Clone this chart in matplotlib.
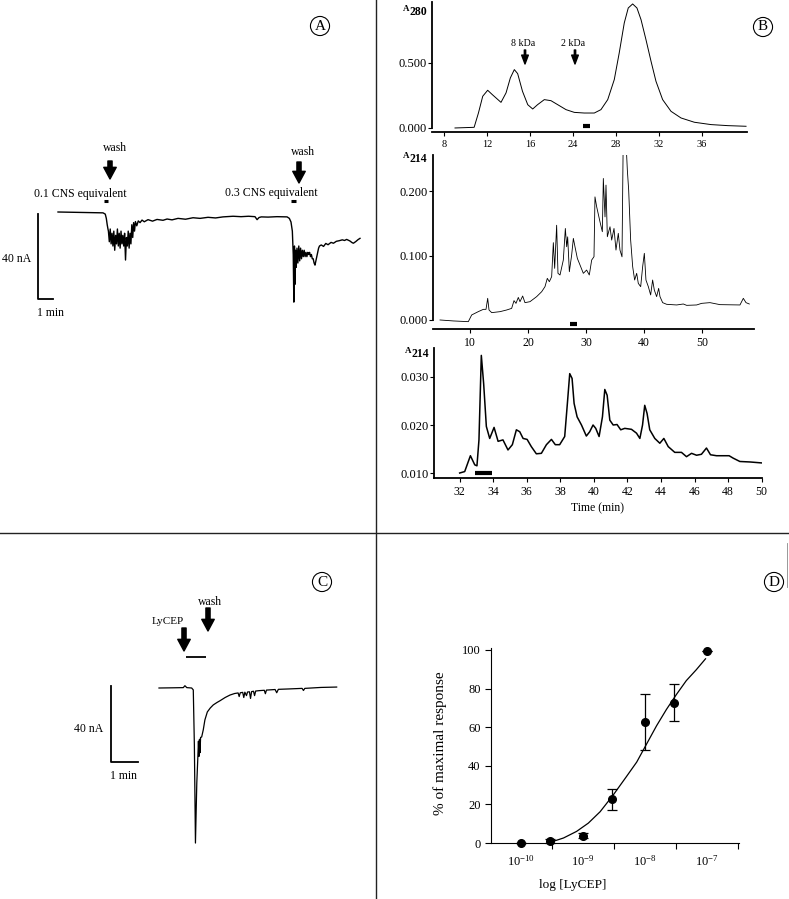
import numpy as np
import matplotlib
matplotlib.use("Agg")
import matplotlib.pyplot as plt
from matplotlib.ticker import FixedLocator, NullFormatter

plt.rcParams['font.family'] = ['Liberation Serif', 'DejaVu Serif']
plt.rcParams['mathtext.fontset'] = 'custom'
plt.rcParams['mathtext.rm'] = 'Liberation Serif'
plt.rcParams['mathtext.it'] = 'Liberation Serif:italic'
plt.rcParams['mathtext.bf'] = 'Liberation Serif:bold'
plt.rcParams['axes.unicode_minus'] = False

W, H = 789, 899

# ---------------- panel A : current trace (min, nA) ----------------
a_t_start = [0, 1.5, 3.0, 3.15, 3.22, 3.28, 3.33]
a_i_start = [0, -0.2, -0.4, -1.0, -3.0, -6.0, -8.0]
a_t_noise1 = [3.36, 3.42, 3.48, 3.54, 3.60, 3.66, 3.72, 3.78, 3.84, 3.90, 3.96, 4.02, 4.08, 4.14, 4.20,
              4.26, 4.32, 4.38, 4.44, 4.50, 4.56, 4.62, 4.68, 4.74, 4.80, 4.86, 4.92, 4.98, 5.04, 5.10]
a_i_noise1 = [-9, -14, -8, -15, -10, -16, -9, -18, -11, -15, -8, -16, -10, -17, -9,
              -15, -11, -16, -10, -22.6, -12, -16, -9, -17, -10, -15, -6, -12, -5, -9]
a_t_mid = [5.16, 5.25, 5.35, 5.47, 5.6, 5.75, 6.0, 6.3, 6.6, 7.0, 7.27, 7.6, 8.0, 8.5, 9.0, 9.47, 10.0,
           10.5, 11.0, 11.67, 12.2, 12.7, 13.13, 13.27, 13.4, 13.55, 14.0, 14.6, 15.27, 15.42, 15.53, 15.62,
           15.68, 15.72, 15.76, 15.80, 15.84, 15.88]
a_i_mid = [-4.5, -6.5, -4.2, -5.0, -3.8, -4.6, -3.6, -4.3, -3.5, -3.9, -3.3, -3.7, -3.0, -3.4, -2.7, -3.0, -2.5,
           -2.8, -2.3, -2.0, -2.2, -2.0, -2.2, -3.6, -2.6, -2.3, -2.4, -2.2, -2.3, -3.0, -4.7, -9.0,
           -20, -42.4, -16, -34, -18, -26]
a_t_noise2 = [15.93, 15.99, 16.05, 16.11, 16.17, 16.23, 16.29, 16.35, 16.41, 16.47, 16.53, 16.59, 16.65,
              16.71, 16.77, 16.83, 16.89, 16.95, 17.01, 17.07, 17.13, 17.19, 17.25, 17.31, 17.37, 17.43]
a_i_noise2 = [-17, -24, -16, -23, -17, -22, -18, -21, -18, -21, -19, -21, -19,
              -20, -19, -21, -20, -22, -22, -24, -25, -23, -21, -19, -17, -16]
a_t_end = [17.55, 17.7, 17.85, 18.0, 18.2, 18.36, 18.55, 18.75, 18.95, 19.1, 19.24, 19.45, 19.6, 19.69,
           19.85, 20.0, 20.13]
a_i_end = [-15.5, -16.2, -14.8, -15.4, -14.3, -14.7, -13.8, -13.5, -13.1, -13.4, -12.9, -13.6, -14.4, -14.7,
           -13.9, -13.0, -12.4]
a_app_start = [3.07, 15.53]
a_app_end = [3.33, 15.87]

# ---------------- panel B : chromatograms ----------------
b1_t = [9.02, 10.8, 11.2, 11.6, 12.06, 12.5, 13.3, 13.77, 14.17, 14.54, 14.85, 15.3, 15.79, 16.25, 16.7,
        17.33, 17.95, 18.58, 19.35, 20.12, 21.05, 21.98, 22.6, 23.23, 23.84, 24.3, 24.77, 25.14, 25.55,
        25.95, 26.33, 26.79, 27.26, 27.72, 28.34, 29.12, 30.05, 31.29, 32.84, 34.4, 36.1]
b1_a280 = [0.0, 0.005, 0.115, 0.244, 0.29, 0.256, 0.197, 0.27, 0.385, 0.449, 0.418, 0.282, 0.179, 0.146,
           0.179, 0.218, 0.21, 0.179, 0.141, 0.12, 0.115, 0.115, 0.141, 0.218, 0.372, 0.577, 0.808, 0.923,
           0.954, 0.923, 0.833, 0.679, 0.513, 0.359, 0.218, 0.128, 0.077, 0.044, 0.026, 0.018, 0.013]
b1_ticks = [8, 12, 16, 20, 24, 28, 32]
b1_tick_labels = ['8', '12', '16', '24', '28', '32', '36']
b1_fraction = [20.93, 21.58]
b1_markers = [15.5, 20.2]
b1_marker_labels = ['8 kDa', '2 kDa']

b2_t = [4.83, 7.13, 9.71, 10.29, 11.44, 12.3, 12.76, 13.05, 13.28, 13.74, 15.17, 16.32, 17.18, 17.59,
        17.93, 18.33, 18.62, 19.08, 19.48, 20.34, 21.49, 22.36, 22.93, 23.33, 23.68, 24.08, 24.37, 24.6,
        24.94, 25.17, 25.52, 26.09, 26.44, 26.67, 26.84, 27.13, 27.53, 27.82, 28.1, 28.51, 28.97, 29.54,
        30.11, 30.57, 30.98, 31.38, 31.55, 31.84, 32.41, 32.82, 32.99, 33.28, 33.45, 33.68, 34.14, 34.43,
        34.83, 35.17, 35.57, 35.86, 36.21, 36.44, 36.78, 37.13, 37.36, 37.7, 38.05, 38.39, 38.74, 39.02,
        39.43, 39.77, 40.06, 40.34, 40.75, 41.15, 41.49, 41.78, 42.18, 42.53, 42.76, 43.22, 43.91, 45.63,
        46.78, 47.36, 49.08, 49.94, 51.38, 53.1, 56.55, 57.13, 57.59, 58.16]
b2_a214 = [0.0, -0.0015, -0.0026, 0.0078, 0.013, 0.0165, 0.0165, 0.0336, 0.0155, 0.0114, 0.0129, 0.0155,
           0.018, 0.030, 0.0258, 0.035, 0.0284, 0.0372, 0.0269, 0.0284, 0.0362, 0.0439, 0.0517, 0.0646,
           0.0594, 0.0672, 0.12, 0.0801, 0.147, 0.0724, 0.0698, 0.093, 0.142, 0.1137, 0.129, 0.0749, 0.1008,
           0.1266, 0.1137, 0.0956, 0.0853, 0.0724, 0.0775, 0.0698, 0.093, 0.0982, 0.191, 0.1757, 0.1525,
           0.137, 0.2196, 0.160, 0.2093, 0.1292, 0.1447, 0.124, 0.142, 0.1085, 0.1344, 0.1085, 0.098, 0.30,
           0.30, 0.2326, 0.2016, 0.124, 0.0827, 0.062, 0.0724, 0.0568, 0.0517, 0.0827, 0.1034, 0.062, 0.0517,
           0.0388, 0.062, 0.0465, 0.0362, 0.0491, 0.0362, 0.0269, 0.0243, 0.0233, 0.0248, 0.0227, 0.0233,
           0.0258, 0.0269, 0.0238, 0.0233, 0.0336, 0.0269, 0.0248]
b2_fraction = [27.24, 28.45]

b3_t = [32.0, 32.3, 32.64, 32.9, 33.03, 33.15, 33.29, 33.43, 33.59, 33.79, 34.05, 34.29, 34.58, 34.88,
        35.14, 35.38, 35.58, 35.78, 36.02, 36.27, 36.57, 36.87, 37.17, 37.47, 37.7, 37.96, 38.26, 38.42,
        38.56, 38.7, 38.82, 39.0, 39.26, 39.55, 39.75, 39.95, 40.11, 40.31, 40.51, 40.65, 40.79, 40.95,
        41.15, 41.38, 41.6, 41.84, 42.24, 42.54, 42.74, 42.9, 43.03, 43.17, 43.33, 43.63, 43.93, 44.17,
        44.43, 44.82, 45.22, 45.52, 45.82, 46.12, 46.41, 46.71, 46.95, 47.31, 47.71, 48.06, 48.3, 48.7,
        49.3, 50.0]
b3_a214 = [0.0100, 0.0103, 0.0136, 0.0117, 0.0115, 0.0169, 0.0345, 0.0286, 0.0197, 0.0172, 0.0195, 0.0166,
           0.0169, 0.0148, 0.0159, 0.0190, 0.0186, 0.0172, 0.0170, 0.0155, 0.0140, 0.0141, 0.0159, 0.0170,
           0.0159, 0.0159, 0.0176, 0.0245, 0.0307, 0.0297, 0.0245, 0.0217, 0.0200, 0.0177, 0.0186, 0.0200,
           0.0193, 0.0176, 0.0217, 0.0274, 0.0262, 0.0210, 0.0200, 0.0201, 0.0190, 0.0193, 0.0191, 0.0183,
           0.0172, 0.0200, 0.0241, 0.0224, 0.0190, 0.0172, 0.0162, 0.0172, 0.0155, 0.0143, 0.0143, 0.0134,
           0.0141, 0.0137, 0.0139, 0.0152, 0.0138, 0.0136, 0.0136, 0.0136, 0.0131, 0.0124, 0.0123, 0.0121]
b3_fraction = [32.9, 33.95]

# ---------------- panel C : current trace (min, nA) ----------------
c_t = [0, 0.5, 0.9, 0.96, 1.03, 1.21, 1.27, 1.31, 1.35, 1.40, 1.44, 1.46, 1.48, 1.50, 1.52, 1.54, 1.58,
       1.64, 1.70, 1.79, 1.9, 2.01, 2.15, 2.26, 2.45, 2.63, 2.8, 2.93, 2.97, 3.01, 3.1, 3.14, 3.18, 3.24,
       3.28, 3.35, 3.39, 3.43, 3.5, 3.54, 3.58, 3.7, 3.9, 3.94, 3.98, 4.3, 4.36, 4.42, 4.8, 5.3, 5.35,
       5.4, 6.0, 6.58]
c_i = [0, 0.1, 0.2, 1.2, 0.2, 0, -1, -30, -81.6, -50, -36, -28, -36, -27, -34, -26, -25.8,
       -22, -16.8, -12.6, -10.5, -8.9, -7.6, -6.7, -5.0, -3.7, -2.9, -2.6, -4.5, -2.5, -2.3, -5.0, -2.2, -4.0,
       -2.1, -2.0, -5.5, -1.9, -1.7, -4.0, -1.6, -1.4, -1.2, -3.0, -1.1, -0.8, -2.5, -0.7, -0.5, -0.2, -1.3,
       -0.2, 0.3, 0.5]
c_app = [1.0, 1.74]

# ---------------- panel D : concentration-response ----------------
d_conc = [1e-10, 3e-10, 1e-9, 3e-9, 1e-8, 3e-8, 1e-7]
d_resp = [0, 1.2, 3.8, 22.6, 62.9, 72.6, 99.5]
d_err = [0, 1.0, 1.3, 5.5, 14.5, 9.6, 0]
d_fit_log = [-9.53, -9.31, -9.10, -8.91, -8.72, -8.51, -8.30, -8.13, -7.97, -7.81, -7.65, -7.49, -7.33,
             -7.17, -7.02]
d_fit_resp = [0.3, 2.6, 6.0, 10.3, 16.2, 24.8, 34.2, 41.9, 51.3, 60.7, 69.2, 76.9, 84.1, 89.7, 95.4]
d_xticks = [1e-10, 1e-9, 1e-8, 1e-7]
d_xtick_labels = [r'$10^{-10}$', r'$10^{-9}$', r'$10^{-8}$', r'$10^{-7}$']
d_minor = [10 ** -10.5, 10 ** -9.5, 10 ** -8.5, 10 ** -7.5, 10 ** -6.5]

scale_nA = 40
scale_min = 1

fig = plt.figure(figsize=(W / 100, H / 100), dpi=100)
fig.patch.set_facecolor('white')


def px_axes(x0, y0, x1, y1):
    return fig.add_axes([x0 / W, 1 - y1 / H, (x1 - x0) / W, (y1 - y0) / H])


def trace_axes(ax):
    ax.axis('off')
    ax.patch.set_alpha(0)


# ---- A ----
axA = px_axes(30, 140, 372, 320)
trace_axes(axA)
a_t = a_t_start + a_t_noise1 + a_t_mid + a_t_noise2 + a_t_end
a_i = a_i_start + a_i_noise1 + a_i_mid + a_i_noise2 + a_i_end
axA.plot(a_t, a_i, color='k', lw=1.0)
for s, e in zip(a_app_start, a_app_end):
    axA.plot([s, e], [5.0, 5.0], color='k', lw=2.2, solid_capstyle='butt')
axA.plot([-1.333, -1.333, -1.333 + scale_min], [-0.94, -0.94 - scale_nA, -0.94 - scale_nA],
         color='k', lw=1.3)
axA.set_xlim(-1.867, 20.93)
axA.set_ylim(-50.82, 33.88)

# ---- B1 ----
def chrom_axes(ax):
    ax.spines['top'].set_visible(False)
    ax.spines['right'].set_visible(False)
    ax.spines['left'].set_linewidth(1.3)
    ax.spines['bottom'].set_linewidth(1.3)
    ax.patch.set_alpha(0)
    ax.tick_params(direction='out', length=3, width=0.8, labelsize=9, pad=1)


axB1 = px_axes(432, 2, 747, 132)
chrom_axes(axB1)
axB1.plot(b1_t, b1_a280, color='k', lw=0.7)
axB1.plot(b1_fraction, [0.015, 0.015], color='k', lw=3, solid_capstyle='butt')
axB1.set_xlim(6.88, 36.19)
axB1.set_ylim(-0.031, 0.969)
axB1.spines['left'].set_bounds(0, 0.969)
axB1.set_yticks([0, 0.5])
axB1.set_yticklabels(['0.000', '0.500'])
axB1.set_xticks(b1_ticks)
axB1.set_xticklabels(b1_tick_labels, fontsize=7.5)
axB1.tick_params(axis='x', pad=3)

axB2 = px_axes(433, 155, 754, 329)
chrom_axes(axB2)
axB2.plot(b2_t, b2_a214, color='k', lw=0.6)
axB2.plot(b2_fraction, [-0.0062, -0.0062], color='k', lw=3, solid_capstyle='butt', clip_on=False)
axB2.set_xlim(3.62, 58.97)
axB2.set_ylim(-0.014, 0.256)
axB2.spines['left'].set_bounds(0, 0.256)
axB2.set_yticks([0, 0.1, 0.2])
axB2.set_yticklabels(['0.000', '0.100', '0.200'])
axB2.set_xticks([10, 20, 30, 40, 50])
axB2.tick_params(axis='x', labelsize=8.5, pad=3)

axB3 = px_axes(434, 348, 762, 478)
chrom_axes(axB3)
axB3.plot(b3_t, b3_a214, color='k', lw=1.1)
axB3.plot(b3_fraction, [0.0099, 0.0099], color='k', lw=3, solid_capstyle='butt')
axB3.set_xlim(30.47, 50.02)
axB3.set_ylim(0.00896, 0.03604)
axB3.set_yticks([0.01, 0.02, 0.03])
axB3.set_yticklabels(['0.010', '0.020', '0.030'])
axB3.set_xticks(list(range(32, 51, 2)))
axB3.tick_params(axis='x', labelsize=8.5, pad=3)

# ---- C ----
axC = px_axes(100, 590, 345, 850)
trace_axes(axC)
axC.plot(c_t, c_i, color='k', lw=0.9)
axC.plot(c_app, [16.3, 16.3], color='k', lw=1.3, solid_capstyle='butt')
axC.plot([-1.78, -1.78, -1.78 + scale_min], [1.05, 1.05 - scale_nA, 1.05 - scale_nA], color='k', lw=1.3)
axC.set_xlim(-2.185, 6.889)
axC.set_ylim(-85.26, 51.58)

# ---- D ----
axD = px_axes(491, 648, 739, 843)
axD.spines['top'].set_visible(False)
axD.spines['right'].set_visible(False)
axD.patch.set_alpha(0)
axD.set_xscale('log')
axD.set_xlim(10 ** -10.48, 10 ** -6.48)
axD.set_ylim(0, 101)
axD.plot(np.power(10.0, d_fit_log), d_fit_resp, color='k', lw=0.9)
axD.errorbar(d_conc, d_resp, yerr=d_err, fmt='o', color='k', ms=5.5, capsize=3.5,
             elinewidth=0.9, capthick=0.9, clip_on=False, zorder=5)
axD.xaxis.set_major_locator(FixedLocator(d_xticks))
axD.set_xticklabels(d_xtick_labels)
axD.xaxis.set_minor_locator(FixedLocator(d_minor))
axD.xaxis.set_minor_formatter(NullFormatter())
axD.tick_params(axis='x', which='major', length=0, labelsize=9, pad=8)
axD.tick_params(axis='x', which='minor', length=4, width=0.8, direction='out')
axD.set_yticks([0, 20, 40, 60, 80, 100])
axD.tick_params(axis='y', length=4, width=0.8, labelsize=9)

# ---- overlay for labels, arrows, dividers ----
ov = fig.add_axes([0, 0, 1, 1])
ov.set_xlim(0, W)
ov.set_ylim(H, 0)
ov.axis('off')
ov.patch.set_alpha(0)

ov.plot([376, 376], [0, H], color='#222222', lw=1.0)
ov.plot([0, W], [533, 533], color='#222222', lw=1.0)
ov.plot([787, 787], [543, 587], color='#888888', lw=0.6)

circ = dict(boxstyle='circle,pad=0.2', fc='white', ec='k', lw=0.8)
for x, y, s in [(320, 26, 'A'), (763, 27, 'B'), (322, 582, 'C'), (774, 582, 'D')]:
    ov.text(x, y, s, ha='center', va='center', fontsize=11, bbox=circ)

big_arrow = dict(arrowstyle='simple,head_width=0.75,head_length=0.7,tail_width=0.25',
                 fc='k', ec='k', shrinkA=0, shrinkB=0, mutation_scale=12)
small_arrow = dict(arrowstyle='simple,head_width=0.6,head_length=0.8,tail_width=0.12',
                   fc='k', ec='k', shrinkA=0, shrinkB=0, mutation_scale=8)

# A labels
ov.text(115, 148, 'wash', ha='center', va='center', fontsize=8.5)
ov.annotate('', xy=(110, 179), xytext=(110, 161), arrowprops=big_arrow)
ov.text(80, 194, '0.1 CNS equivalent', ha='center', va='center', fontsize=8.5)
ov.text(303, 152, 'wash', ha='center', va='center', fontsize=8.5)
ov.annotate('', xy=(299, 183), xytext=(299, 162), arrowprops=big_arrow)
ov.text(271, 193, '0.3 CNS equivalent', ha='center', va='center', fontsize=8.5)
ov.text(17, 259, '40 nA', ha='center', va='center', fontsize=8.5)
ov.text(51, 313, '1 min', ha='center', va='center', fontsize=8.5)

# B labels
for x, s in zip([525, 575], b1_marker_labels):
    ov.text(x - 2, 43, s, ha='center', va='center', fontsize=7.2)
    ov.annotate('', xy=(x, 64), xytext=(x, 50), arrowprops=small_arrow)
for x, y, sub in [(403, 9, '280'), (403, 156, '214'), (405, 351, '214')]:
    ov.text(x, y, 'A', ha='left', va='center', fontsize=6.5, fontweight='bold')
    ov.text(x + 6.5, y + 3, sub, ha='left', va='center', fontsize=8.5, fontweight='bold')
ov.text(598, 508, 'Time (min)', ha='center', va='center', fontsize=8.5)

# C labels
ov.text(168, 622, 'LyCEP', ha='center', va='center', fontsize=8)
ov.annotate('', xy=(184, 651), xytext=(184, 628), arrowprops=big_arrow)
ov.text(210, 602, 'wash', ha='center', va='center', fontsize=8.5)
ov.annotate('', xy=(208, 631), xytext=(208, 608), arrowprops=big_arrow)
ov.text(89, 729, '40 nA', ha='center', va='center', fontsize=8.5)
ov.text(124, 776, '1 min', ha='center', va='center', fontsize=8.5)

# D labels
ov.text(440, 743, '% of maximal response', ha='center', va='center', rotation=90, fontsize=11)
ov.text(573, 885, 'log [LyCEP]', ha='center', va='center', fontsize=9.5)

fig.savefig('out.png', dpi=100)
